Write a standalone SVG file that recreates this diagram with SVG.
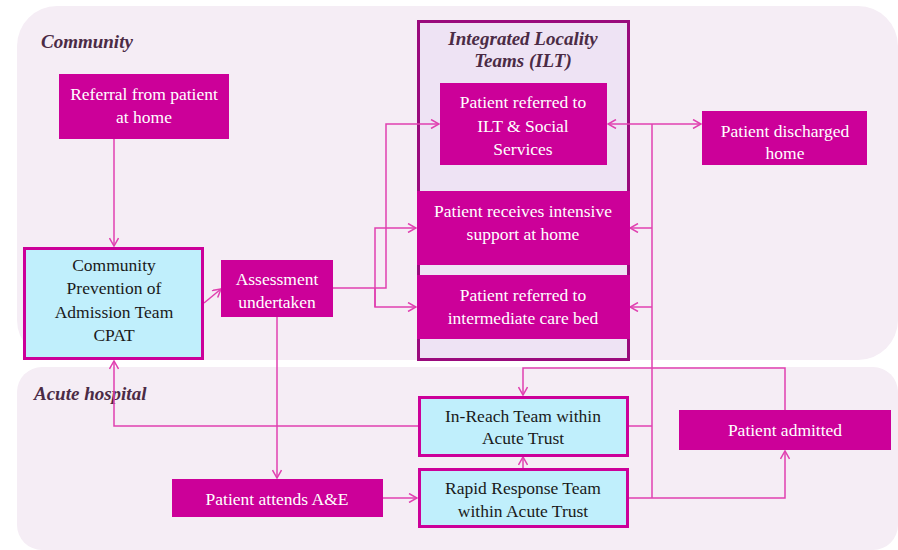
<svg xmlns="http://www.w3.org/2000/svg" width="898" height="550" viewBox="0 0 898 550">
<defs>
<marker id="arr" viewBox="0 0 10 10" refX="9" refY="5" markerWidth="10" markerHeight="10" markerUnits="userSpaceOnUse" orient="auto">
<path d="M1,0.5 L9,5 L1,9.5" fill="none" stroke="#E040B0" stroke-width="1.5"/>
</marker>
<style>
.bg{fill:#F5EDF5;}
.mag{fill:#CC0099;}
.cyan{fill:#C0EFFC;stroke:#CC0099;stroke-width:3;}
.wt{font-family:"Liberation Serif",serif;font-size:17.5px;fill:#FFFFFF;text-anchor:middle;}
.dt{font-family:"Liberation Serif",serif;font-size:17.5px;fill:#1A1A1A;text-anchor:middle;}
.lbl{font-family:"Liberation Serif",serif;font-size:19px;font-weight:bold;font-style:italic;fill:#4B2B45;}
.c{fill:none;stroke:#E040B0;stroke-width:1.5;}
.ca{fill:none;stroke:#E040B0;stroke-width:1.5;marker-end:url(#arr);}
</style>
</defs>
<rect width="898" height="550" fill="#FFFFFF"/>
<g id="community-area">
<rect class="bg" x="17" y="6" width="881" height="354" rx="40"/>
<text class="lbl" x="41" y="48">Community</text>
</g>
<g id="acute-area">
<rect class="bg" x="17" y="367" width="881" height="183" rx="25"/>
<text class="lbl" x="34" y="400">Acute hospital</text>
</g>
<g id="ilt">
<rect x="418.5" y="21.5" width="210" height="338" fill="#EEE3F4" stroke="#9A0A7C" stroke-width="3"/>
<text class="lbl" x="523" y="45" text-anchor="middle">Integrated Locality</text>
<text class="lbl" x="523" y="67" text-anchor="middle">Teams (ILT)</text>
</g>
<g id="connectors">
<path class="ca" d="M114,139 V246"/>
<path class="ca" d="M204,303 L221,289"/>
<path class="ca" d="M333,288 H386 V124 H439"/>
<path class="ca" d="M375,307 V228 H416"/>
<path class="ca" d="M375,288 V307 H416"/>
<path class="ca" d="M277,317 V478"/>
<path class="ca" d="M418,426 H114 V361"/>
<path class="ca" d="M383,498 H417"/>
<path class="ca" d="M523,468 V457"/>
<path class="ca" d="M629,498 H785 V451"/>
<path class="c" d="M652,124 V498"/>
<path class="c" d="M629,426 H652"/>
<path class="ca" d="M652,124 H608"/>
<path class="ca" d="M652,124 H701"/>
<path class="ca" d="M652,228 H630"/>
<path class="ca" d="M652,307 H630"/>
<path class="ca" d="M785,410 V368 H523 V395"/>
</g>
<g id="referral">
<rect class="mag" x="59" y="74" width="170" height="65"/>
<text class="wt" x="144" y="100">Referral from patient</text>
<text class="wt" x="144" y="123">at home</text>
</g>
<g id="cpat">
<rect class="cyan" x="24.5" y="248.5" width="178" height="110"/>
<text class="dt" x="114" y="271">Community</text>
<text class="dt" x="114" y="294">Prevention of</text>
<text class="dt" x="114" y="318">Admission Team</text>
<text class="dt" x="114" y="341">CPAT</text>
</g>
<g id="assessment">
<rect class="mag" x="221" y="260" width="112" height="57"/>
<text class="wt" x="277" y="285">Assessment</text>
<text class="wt" x="277" y="308">undertaken</text>
</g>
<g id="ilt-social">
<rect class="mag" x="440" y="83" width="167" height="82"/>
<text class="wt" x="523" y="108">Patient referred to</text>
<text class="wt" x="523" y="132">ILT &amp; Social</text>
<text class="wt" x="523" y="155">Services</text>
</g>
<g id="intensive-support">
<rect class="mag" x="417" y="191" width="213" height="74"/>
<text class="wt" x="523" y="217">Patient receives intensive</text>
<text class="wt" x="523" y="240">support at home</text>
</g>
<g id="band">
<rect class="mag" x="417" y="260" width="213" height="5"/>
</g>
<g id="intermediate-bed">
<rect class="mag" x="417" y="275" width="213" height="64"/>
<text class="wt" x="523" y="301">Patient referred to</text>
<text class="wt" x="523" y="324">intermediate care bed</text>
</g>
<g id="discharged">
<rect class="mag" x="702" y="111" width="165" height="54"/>
<text class="wt" x="785" y="137">Patient discharged</text>
<text class="wt" x="785" y="159">home</text>
</g>
<g id="ae">
<rect class="mag" x="172" y="479" width="211" height="38"/>
<text class="wt" x="277" y="505">Patient attends A&amp;E</text>
</g>
<g id="in-reach">
<rect class="cyan" x="419.5" y="397.5" width="208" height="58"/>
<text class="dt" x="523" y="422">In-Reach Team within</text>
<text class="dt" x="523" y="444">Acute Trust</text>
</g>
<g id="rapid-response">
<rect class="cyan" x="419.5" y="469.5" width="208" height="57"/>
<text class="dt" x="523" y="494">Rapid Response Team</text>
<text class="dt" x="523" y="517">within Acute Trust</text>
</g>
<g id="admitted">
<rect class="mag" x="679" y="410" width="212" height="40"/>
<text class="wt" x="785" y="436">Patient admitted</text>
</g>
</svg>
